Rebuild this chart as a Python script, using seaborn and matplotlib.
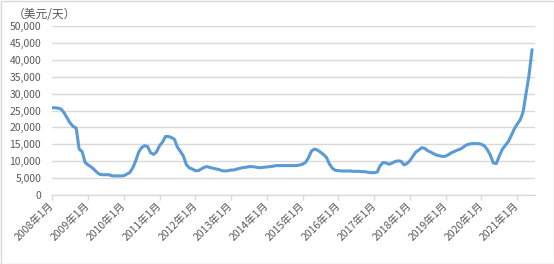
import numpy as np
import pandas as pd
import matplotlib
matplotlib.use("Agg")
import matplotlib.pyplot as plt
import matplotlib.dates as mdates
from matplotlib.patches import Rectangle
import seaborn as sns

# Monthly values (USD/day), Jan 2008 .. Jun 2021
rates = [
    # 2008
    25800, 25800, 25700, 25400, 24300, 22800, 21300, 20300, 19800, 13600, 12800, 9600,
    # 2009
    8900, 8300, 7600, 6700, 6100, 6000, 6000, 6000, 5700, 5650, 5650, 5650,
    # 2010
    5700, 6200, 6600, 8000, 10000, 12700, 14000, 14600, 14300, 12500, 12000, 12800,
    # 2011
    14600, 15700, 17300, 17300, 17000, 16500, 14200, 12900, 11500, 9000, 8000, 7700,
    # 2012
    7200, 7200, 7700, 8200, 8400, 8100, 7900, 7700, 7500, 7200, 7100, 7200,
    # 2013
    7400, 7400, 7700, 7900, 8100, 8200, 8400, 8400, 8300, 8100, 8100, 8200,
    # 2014
    8300, 8400, 8500, 8700, 8700, 8700, 8700, 8700, 8700, 8700, 8700, 8900,
    # 2015
    9100, 9700, 11000, 13000, 13600, 13300, 12700, 12000, 11100, 9200, 7900, 7300,
    # 2016
    7200, 7100, 7100, 7100, 7100, 7000, 7000, 7000, 6900, 6900, 6700, 6600,
    # 2017
    6600, 6800, 8600, 9600, 9500, 9100, 9400, 9900, 10100, 10000, 8900, 9300,
    # 2018
    10200, 11500, 12700, 13300, 14000, 13800, 13100, 12700, 12200, 11800, 11600, 11400,
    # 2019
    11500, 12000, 12500, 12900, 13300, 13600, 14200, 14800, 15100, 15200, 15200, 15200,
    # 2020
    15000, 14500, 13400, 11800, 9500, 9300, 11500, 13500, 14700, 15800, 17600, 19500,
    # 2021
    21000, 22300, 24500, 30000, 35500, 43000,
]
tick_years = list(range(2008, 2022))
tick_labels = [f"{y}年1月" for y in tick_years]
y_ticks = list(range(0, 50001, 5000))
y_label = "（美元/天）"

dates = pd.date_range("2008-01-01", periods=len(rates), freq="MS")
df = pd.DataFrame({"date": dates, "rate": rates})

sns.set_theme(style="white")
plt.rcParams["font.family"] = ["Noto Sans CJK SC", "DejaVu Sans"]

fig = plt.figure(figsize=(5.54, 2.64), dpi=100)
ax = fig.add_axes([52.3 / 554, 1 - 195 / 264, (535 - 52.3) / 554, (195 - 26) / 264])

sns.lineplot(data=df, x="date", y="rate", ax=ax, color="#5B9BD5", linewidth=2.2)

grid_c = "#D9D9D9"
text_c = "#595959"
ax.set_ylim(0, 50000)
ax.set_xlim(pd.Timestamp("2008-01-01"), pd.Timestamp("2021-07-01"))
ax.set_yticks(y_ticks)
ax.set_yticklabels([f"{v:,}" for v in y_ticks])
ax.yaxis.grid(True, color=grid_c, linewidth=1)
ax.xaxis.grid(False)
ax.set_axisbelow(True)

ax.set_xticks([pd.Timestamp(f"{y}-01-01") for y in tick_years])
ax.set_xticklabels(tick_labels, rotation=45, ha="right", rotation_mode="anchor", va="center")

for s in ["top", "right", "left"]:
    ax.spines[s].set_visible(False)
ax.spines["bottom"].set_color(grid_c)
ax.spines["bottom"].set_linewidth(1)

ax.tick_params(axis="y", length=0, pad=8, labelsize=7.5, labelcolor=text_c)
ax.tick_params(axis="x", length=3.5, width=1, color=grid_c, pad=3, labelsize=7.5,
               labelcolor=text_c, bottom=True)
ax.set_xlabel("")
ax.set_ylabel("")

fig.text(13 / 554, 1 - 15 / 264, y_label, fontsize=8.5, color=text_c, ha="left", va="center")

fig.patches.append(Rectangle((0.5 / 554, 0.5 / 264), 553 / 554, 263 / 264, transform=fig.transFigure,
                             fill=False, edgecolor=grid_c, linewidth=1))

fig.savefig("out.png", dpi=100)
